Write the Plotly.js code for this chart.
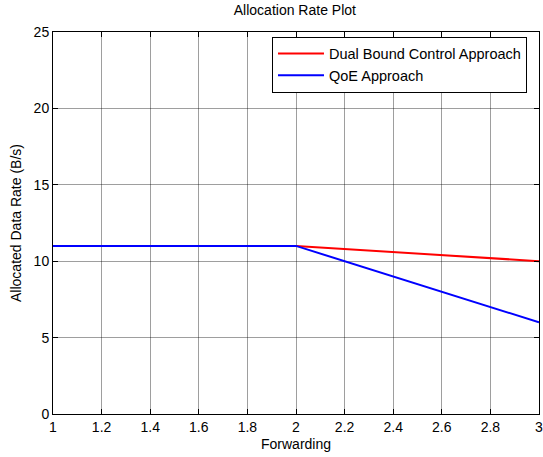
<!DOCTYPE html>
<html>
<head>
<meta charset="utf-8">
<script src="https://cdn.plot.ly/plotly-3.0.1.min.js"></script>
<style>html,body{margin:0;padding:0;background:#fff}#plot{width:543px;height:457px}</style>
</head>
<body>
<div id="plot"></div>
<script>
const forwarding = [1, 2, 3];
const dualBound = [11, 11, 10];
const qoe = [11, 11, 6];
const xTicks = [1, 1.2, 1.4, 1.6, 1.8, 2, 2.2, 2.4, 2.6, 2.8, 3];
const yTicks = [0, 5, 10, 15, 20, 25];

const font = {family: 'Liberation Sans, Arial, sans-serif', size: 14, color: '#000'};
const legendFont = {family: 'Liberation Sans, Arial, sans-serif', size: 14.5, color: '#000'};
const traces = [
  {x: forwarding, y: dualBound, mode: 'lines', name: 'Dual Bound Control Approach', line: {color: '#ff0000', width: 2}},
  {x: forwarding, y: qoe, mode: 'lines', name: 'QoE Approach', line: {color: '#0000ff', width: 2}}
];
const axisCommon = {
  showline: true, linecolor: '#000', linewidth: 1, mirror: 'allticks',
  ticks: 'inside', ticklen: 5, tickcolor: '#000', tickwidth: 1,
  showgrid: true, gridcolor: 'rgba(0,0,0,0.38)', gridwidth: 1, griddash: 'solid',
  zeroline: false, tickfont: font, ticklabeloverflow: 'allow'
};
const layout = {
  width: 543, height: 457,
  margin: {l: 53, r: 4, t: 32, b: 43},
  paper_bgcolor: '#fff', plot_bgcolor: '#fff',
  font: font,
  title: {text: 'Allocation Rate Plot', font: font, x: 0.543, xanchor: 'center', y: 0.978, yanchor: 'middle'},
  xaxis: Object.assign({}, axisCommon, {range: [1, 3], tickvals: xTicks, ticktext: xTicks.map(String),
    title: {text: 'Forwarding', font: font, standoff: 5}}),
  yaxis: Object.assign({}, axisCommon, {range: [0, 25], tickvals: yTicks, ticktext: yTicks.map(String),
    title: {text: 'Allocated Data Rate (B/s)', font: font, standoff: 8}}),
  legend: {x: 0.4506, y: 0.988, xanchor: 'left', yanchor: 'top', bgcolor: '#fff', bordercolor: '#000', borderwidth: 1,
    font: legendFont, tracegroupgap: 0, itemwidth: 46},
  showlegend: true
};
Plotly.newPlot('plot', traces, layout, {displayModeBar: false, staticPlot: true});
</script>
</body>
</html>
